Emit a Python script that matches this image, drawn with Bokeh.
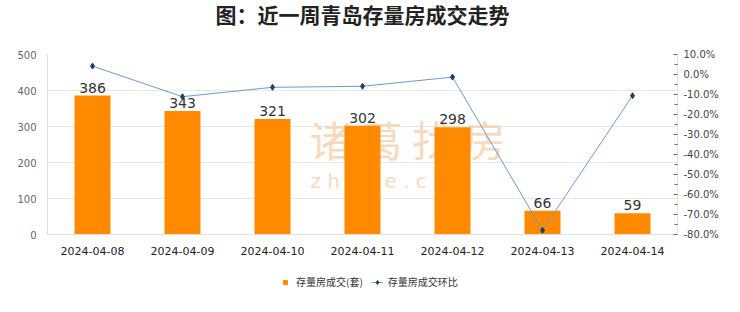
from bokeh.plotting import figure
from bokeh.layouts import column
from bokeh.models import (FactorRange, Range1d, LinearAxis, ColumnDataSource, Legend, LegendItem,
                          CustomJSTickFormatter, Label, FixedTicker)
from bokeh.core.properties import value
from bokeh.embed import file_html
from bokeh.resources import INLINE

dates = ["2024-04-08", "2024-04-09", "2024-04-10", "2024-04-11", "2024-04-12", "2024-04-13", "2024-04-14"]
deals = [386, 343, 321, 302, 298, 66, 59]
mom = [4.2, -11.1, -6.4, -5.9, -1.3, -77.9, -10.6]
left_ticks = [0, 100, 200, 300, 400, 500]
right_ticks = [10, 0, -10, -20, -30, -40, -50, -60, -70, -80]
right_minor = [5, -5, -15, -25, -35, -45, -55, -65, -75]
series_names = ["存量房成交(套)", "存量房成交环比"]
title_text = "图：近一周青岛存量房成交走势"

FONT = "Noto Sans CJK SC"
BAR_COLOR = "#FF8A00"
LINE_COLOR = "#6A9BCF"
MARK_COLOR = "#1F4060"


def blank_fig(h):
    f = figure(width=740, height=h, x_range=Range1d(0, 1), y_range=Range1d(0, 1),
               x_axis_type=None, y_axis_type=None, output_backend="svg", toolbar_location=None,
               min_border_left=0, min_border_right=0, min_border_top=0, min_border_bottom=0)
    f.grid.grid_line_color = None
    f.outline_line_color = None
    f.background_fill_color = "white"
    f.border_fill_color = "white"
    return f


# title figure
tf = blank_fig(30)
tf.text(x=[0.5], y=[0.5], text=[title_text], text_align="center", text_baseline="middle",
        y_offset=-2, text_font=value(FONT), text_font_size="21px", text_font_style="bold",
        text_color="#222222")

p = figure(width=740, height=232, x_range=FactorRange(*dates), y_range=Range1d(0, 500),
           output_backend="svg", toolbar_location=None,
           min_border_left=47, min_border_right=63, min_border_top=24, min_border_bottom=28)
p.extra_y_ranges = {"pct": Range1d(-80, 10)}

p.outline_line_color = None
p.background_fill_color = "white"
p.border_fill_color = "white"

# watermark
p.add_layout(Label(x=262, y=66, x_units="screen", y_units="screen", text="诸 葛 找 房",
                   text_font=FONT, text_font_size="42px", text_color="#F9D2B2", text_alpha=0.85,
                   level="underlay"))
p.add_layout(Label(x=263, y=42, x_units="screen", y_units="screen", text="z   h   u   g   e   .   c   o   m",
                   text_font="DejaVu Sans", text_font_size="20px", text_color="#F9D2B2", text_alpha=0.85,
                   level="underlay"))

src = ColumnDataSource(dict(x=dates, y=deals, lab=[str(v) for v in deals], pct=mom))
p.vbar(x="x", top="y", width=0.4, source=src, color=BAR_COLOR, line_color=None)
p.text(x="x", y="y", text="lab", source=src, text_align="center", text_baseline="alphabetic",
       y_offset=-8, text_font=value("DejaVu Sans"), text_font_size="14px", text_color="#333333")

p.line(x="x", y="pct", source=src, y_range_name="pct", line_color=LINE_COLOR, line_width=1)
p.scatter(x="x", y="pct", source=src, y_range_name="pct", marker="diamond", size=6, color=MARK_COLOR)

# left axis
yax = p.yaxis[0]
yax.ticker = FixedTicker(ticks=left_ticks)
yax.axis_line_color = "#e0e0e0"
yax.major_tick_line_color = None
yax.minor_tick_line_color = None
yax.major_label_text_color = "#666666"
yax.major_label_text_font = "DejaVu Sans"
yax.major_label_text_font_size = "10px"

# right axis
rax = LinearAxis(y_range_name="pct")
rax.ticker = FixedTicker(ticks=right_ticks, minor_ticks=right_minor)
rax.formatter = CustomJSTickFormatter(code="return tick.toFixed(1) + '%';")
rax.axis_line_color = "#e0e0e0"
rax.major_tick_in = 4
rax.major_tick_out = 0
rax.minor_tick_in = 3
rax.minor_tick_out = 0
rax.major_tick_line_color = "#666666"
rax.minor_tick_line_color = "#666666"
rax.major_label_text_color = "#444444"
rax.major_label_text_font = "DejaVu Sans"
rax.major_label_text_font_size = "10px"
rax.major_label_standoff = 6
p.add_layout(rax, "right")

# bottom axis
xax = p.xaxis[0]
xax.axis_line_color = "#e0e0e0"
xax.major_tick_line_color = None
xax.minor_tick_line_color = None
xax.major_label_text_color = "#222222"
xax.major_label_text_font = "DejaVu Sans"
xax.major_label_text_font_size = "11px"
xax.major_label_standoff = 6

p.xgrid.grid_line_color = None
p.ygrid.grid_line_color = "#e6e6e6"
p.ygrid.ticker = FixedTicker(ticks=left_ticks)

# legend figure
lg = blank_fig(50)
off = ColumnDataSource(dict(x=[-5, -4], y=[-5, -4]))
gb = lg.scatter(x="x", y="y", source=off, marker="square", size=8, color=BAR_COLOR)
gl = lg.line(x="x", y="y", source=off, line_color=LINE_COLOR, line_width=1)
gm = lg.scatter(x="x", y="y", source=off, marker="diamond", size=5, color=MARK_COLOR)
legend = Legend(items=[LegendItem(label=series_names[0], renderers=[gb]),
                       LegendItem(label=series_names[1], renderers=[gl, gm])],
                orientation="horizontal", location=(232, 23),
                label_text_font=FONT, label_text_font_size="10px", label_text_color="#333333",
                glyph_width=12, glyph_height=10, label_standoff=5, spacing=8,
                border_line_color=None, background_fill_alpha=0, margin=0, padding=0)
lg.add_layout(legend, "center")

layout = column(tf, p, lg, spacing=0)
open("out.html", "w").write(file_html(layout, INLINE))
